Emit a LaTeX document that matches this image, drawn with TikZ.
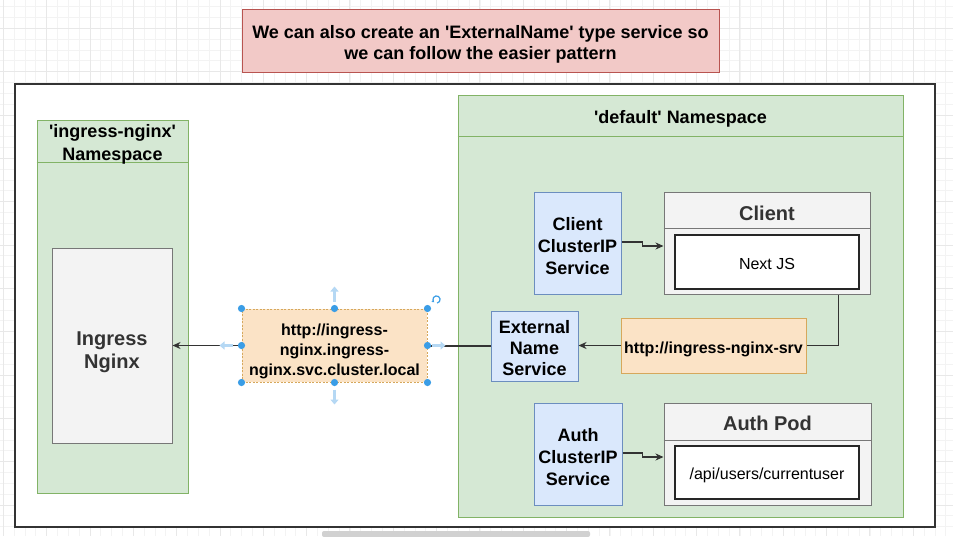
\documentclass[tikz,border=0pt]{standalone}
\usepackage{fontspec}
\setmainfont{Liberation Sans}
\usetikzlibrary{arrows.meta,calc}
\definecolor{gfill}{HTML}{D5E8D4}
\definecolor{gline}{HTML}{82B366}
\definecolor{bfill}{HTML}{DAE8FC}
\definecolor{bline}{HTML}{6C8EBF}
\definecolor{ofill}{HTML}{FBE3C6}
\definecolor{oline}{HTML}{D6A85C}
\definecolor{pfill}{HTML}{F2C9C7}
\definecolor{pline}{HTML}{B85450}
\definecolor{podfill}{HTML}{F3F3F3}
\definecolor{podline}{HTML}{777777}
\definecolor{txtdark}{HTML}{333333}
\definecolor{conncol}{HTML}{333333}
\definecolor{hdot}{HTML}{3A9DE6}
\definecolor{harrow}{HTML}{B5D8F4}
\definecolor{gridmin}{HTML}{F3F3F3}
\definecolor{gridmaj}{HTML}{E8E8E8}
\newcommand{\sq}{\textquotesingle}
\begin{document}
\begin{tikzpicture}[x=1pt,y=-1pt,
  box/.style={draw, line width=1pt, inner sep=0pt, align=center},
  greenbox/.style={box, fill=gfill, draw=gline},
  bluebox/.style={box, fill=bfill, draw=bline},
  orangebox/.style={box, fill=ofill, draw=oline},
  podbox/.style={box, fill=podfill, draw=podline},
  innerbox/.style={box, fill=white, draw=black!85, line width=1.3pt},
  tx/.style={inner sep=0pt, align=center},
  bluetx/.style={tx, font=\fontsize{18}{22}\selectfont\bfseries},
  orangetx/.style={tx, font=\fontsize{16}{20}\selectfont\bfseries},
  innertx/.style={tx, font=\fontsize{16}{19}\selectfont},
  hdr/.style={tx, font=\fontsize{18}{22.5}\selectfont\bfseries},
  podhdr/.style={tx, text=txtdark, font=\fontsize{20}{24}\selectfont\bfseries},
  conn/.style={draw=conncol, line width=1.3pt},
  arr/.style={conn, -{Stealth[length=8pt,width=7pt,inset=2.5pt]}},
  handle/.style={fill=hdot},
  harr/.style={draw=harrow, line width=2.6pt, -{Triangle[length=5pt,width=8pt]}},
]
\useasboundingbox (0,0) rectangle (953,536);
\fill[white] (0,0) rectangle (953,536);
% background grid
\foreach \k in {0,...,88} \draw[gridmin, line width=0.8pt] ({3.3+10.833*\k},0) -- ({3.3+10.833*\k},536);
\foreach \k in {1,...,51} \draw[gridmin, line width=0.8pt] (0,{-15+10.833*\k}) -- (953,{-15+10.833*\k});
\foreach \k in {0,...,22} \draw[gridmaj, line width=0.9pt] ({3.3+43.33*\k},0) -- ({3.3+43.33*\k},536);
\foreach \k in {1,...,13} \draw[gridmaj, line width=0.9pt] (0,{-15+43.33*\k}) -- (953,{-15+43.33*\k});
% scrollbar
\fill[black!18, rounded corners=2pt] (322,531) rectangle (590,537);

% title
\node[box, fill=pfill, draw=pline, minimum width=477, minimum height=63] (title) at (480.5,40.5) {};
\node[tx, font=\fontsize{18}{21}\selectfont\bfseries] (titlet) at (480.5,44)
  {We can also create an \sq ExternalName\sq\ type service so\\we can follow the easier pattern};

% outer frame
\node[draw=black!80, line width=2pt, fill=white, minimum width=920, minimum height=443, inner sep=0pt] (frame) at (475,305.5) {};

% namespaces
\node[greenbox, minimum width=151, minimum height=373] (nsL) at (112.5,306.5) {};
\draw[gline, line width=1pt] ($(nsL.north west)+(0,43)$) -- ($(nsL.north east)+(0,43)$);
\node[hdr] (nsLt) at (112.5,144.5) {\sq ingress-nginx\sq\\Namespace};

\node[greenbox, minimum width=445, minimum height=422] (nsR) at (680.5,306) {};
\draw[gline, line width=1pt] ($(nsR.north west)+(0,42)$) -- ($(nsR.north east)+(0,42)$);
\node[hdr] (nsRt) at (680.5,119) {\sq default\sq\ Namespace};

% ingress nginx
\node[podbox, minimum width=120, minimum height=195] (ingress) at (112,345.5) {};
\node[tx, text=txtdark, font=\fontsize{20}{23.5}\selectfont\bfseries] (ingresst) at (112,352) {Ingress\\Nginx};

% services
\node[bluebox, minimum width=87, minimum height=102] (cip) at (577.5,243) {};
\node[bluetx] (cipt) at (577.5,246) {Client\\ClusterIP\\Service};
\node[bluebox, minimum width=88, minimum height=102] (aip) at (578,454) {};
\node[bluetx] (aipt) at (578,457) {Auth\\ClusterIP\\Service};
\node[bluebox, minimum width=87, minimum height=70] (en) at (534.5,346) {};
\node[bluetx, font=\fontsize{18}{21}\selectfont\bfseries] (ent) at (534.5,348.5) {External\\Name\\Service};

% pods
\node[podbox, minimum width=206, minimum height=102] (cpod) at (767,243) {};
\draw[podline, line width=1pt] ($(cpod.north west)+(0,37)$) -- ($(cpod.north east)+(0,37)$);
\node[podhdr] (cpodt) at (767,213) {Client};
\node[innerbox, minimum width=184, minimum height=54] (cin) at (767,262) {};
\node[innertx] (cint) at (767,263.5) {Next JS};

\node[podbox, minimum width=207, minimum height=102] (apod) at (767.5,454) {};
\draw[podline, line width=1pt] ($(apod.north west)+(0,38)$) -- ($(apod.north east)+(0,38)$);
\node[podhdr] (apodt) at (767.5,423.5) {Auth Pod};
\node[innerbox, minimum width=184, minimum height=53] (ain) at (767,472.5) {};
\node[innertx] (aint) at (767,475) {/api/users/currentuser};

% orange boxes
\node[orangebox, minimum width=185, minimum height=55] (srv) at (713.5,345.5) {};
\node[orangetx] (srvt) at (713.5,349.5) {http://ingress-nginx-srv};
\node[orangebox, dashed, dash pattern=on 2pt off 1.5pt, minimum width=185, minimum height=73] (url) at (334.5,345.5) {};
\node[orangetx] (urlt) at (334.5,351) {http://ingress-\\nginx.ingress-\\nginx.svc.cluster.local};

% connectors
\draw[arr] (url.west) -- (url.west -| ingress.east);
\draw[conn] (en.west) -- (en.west -| url.east);
\draw[arr] (srv.west) -- (srv.west -| en.east);
\draw[conn] ($(cpod.south east)+(-32,0)$) |- (srv.east);
\draw[arr] ([yshift=1pt]cip.east) -- ++(21,0) |- ([yshift=-3pt]cpod.west);
\draw[arr] ([yshift=1pt]aip.east) -- ++(20,0) |- ([yshift=-3pt]apod.west);

% selection handles
\draw[harr] ($(url.north)+(0,-7)$) -- ++(0,-15);
\draw[harr] ($(url.south)+(0,7)$) -- ++(0,15);
\draw[harr] ($(url.west)+(-9,0)$) -- ++(-13,0);
\draw[harr] ($(url.east)+(4,0)$) -- ++(14,0);
\foreach \p in {north west,north,north east,west,east,south west,south,south east}
  \fill[handle] (url.\p) circle (3.6);
\draw[hdot, line width=1.2pt, -{Stealth[length=2.5pt,width=3pt]}] ($(url.north east)+(9,-9)$) ++(80:3.6) arc (80:-230:3.6);
\end{tikzpicture}
\end{document}
